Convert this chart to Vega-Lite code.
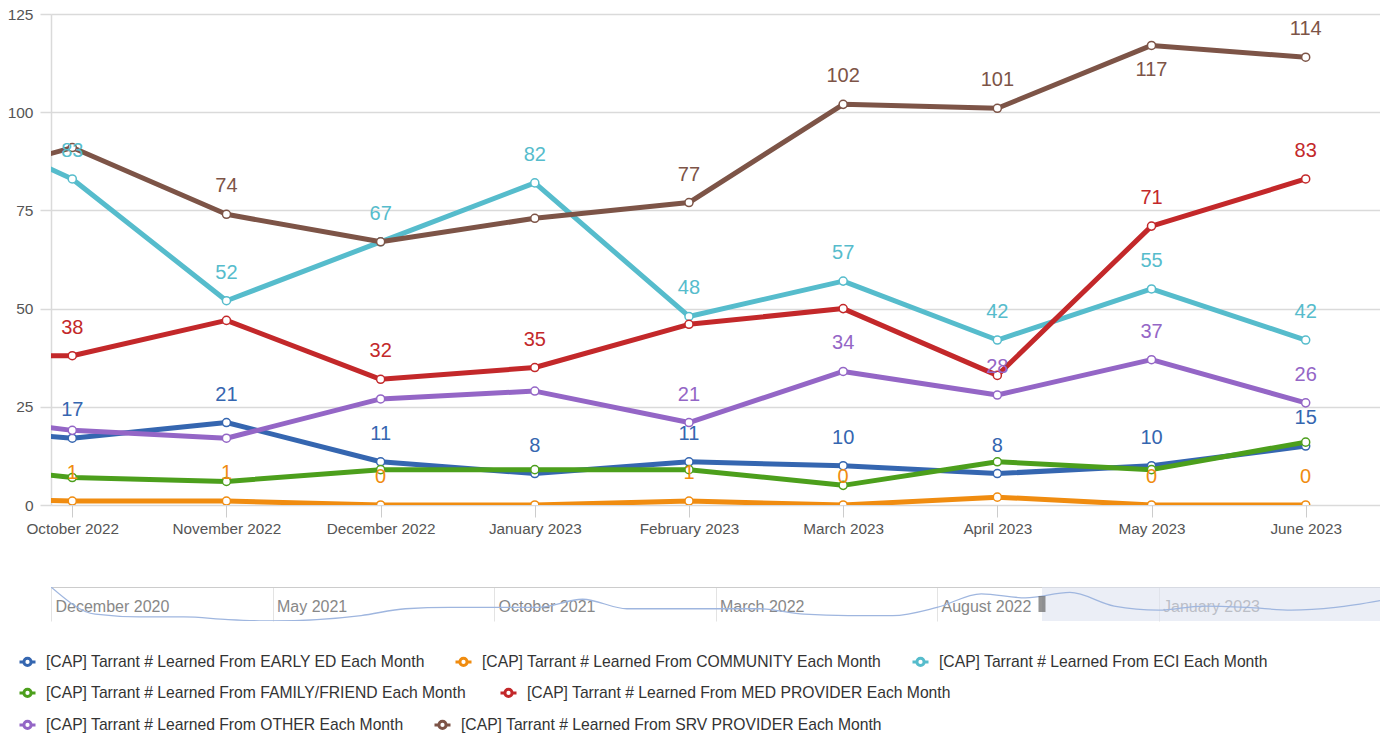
{
  "$schema": "https://vega.github.io/schema/vega-lite/v6.json",
  "background": "white",
  "padding": {"left": 7, "top": 7, "right": 0, "bottom": 0},
  "config": {
    "view": {"stroke": null},
    "font": "Liberation Sans, Arial, sans-serif"
  },
  "datasets": {
    "main": [
      {"src": "EARLY ED", "m": -1, "v": 20},
      {"src": "EARLY ED", "m": 0, "v": 17, "lab": "17"},
      {"src": "EARLY ED", "m": 1, "v": 21, "lab": "21"},
      {"src": "EARLY ED", "m": 2, "v": 11, "lab": "11"},
      {"src": "EARLY ED", "m": 3, "v": 8, "lab": "8"},
      {"src": "EARLY ED", "m": 4, "v": 11, "lab": "11"},
      {"src": "EARLY ED", "m": 5, "v": 10, "lab": "10"},
      {"src": "EARLY ED", "m": 6, "v": 8, "lab": "8"},
      {"src": "EARLY ED", "m": 7, "v": 10, "lab": "10"},
      {"src": "EARLY ED", "m": 8, "v": 15, "lab": "15"},
      {"src": "COMMUNITY", "m": -1, "v": 2},
      {"src": "COMMUNITY", "m": 0, "v": 1, "lab": "1"},
      {"src": "COMMUNITY", "m": 1, "v": 1, "lab": "1"},
      {"src": "COMMUNITY", "m": 2, "v": 0, "lab": "0"},
      {"src": "COMMUNITY", "m": 3, "v": 0},
      {"src": "COMMUNITY", "m": 4, "v": 1, "lab": "1"},
      {"src": "COMMUNITY", "m": 5, "v": 0, "lab": "0"},
      {"src": "COMMUNITY", "m": 6, "v": 2},
      {"src": "COMMUNITY", "m": 7, "v": 0, "lab": "0"},
      {"src": "COMMUNITY", "m": 8, "v": 0, "lab": "0"},
      {"src": "ECI", "m": -1, "v": 101},
      {"src": "ECI", "m": 0, "v": 83, "lab": "83"},
      {"src": "ECI", "m": 1, "v": 52, "lab": "52"},
      {"src": "ECI", "m": 2, "v": 67, "lab": "67"},
      {"src": "ECI", "m": 3, "v": 82, "lab": "82"},
      {"src": "ECI", "m": 4, "v": 48, "lab": "48"},
      {"src": "ECI", "m": 5, "v": 57, "lab": "57"},
      {"src": "ECI", "m": 6, "v": 42, "lab": "42"},
      {"src": "ECI", "m": 7, "v": 55, "lab": "55"},
      {"src": "ECI", "m": 8, "v": 42, "lab": "42"},
      {"src": "FAMILY/FRIEND", "m": -1, "v": 11},
      {"src": "FAMILY/FRIEND", "m": 0, "v": 7},
      {"src": "FAMILY/FRIEND", "m": 1, "v": 6},
      {"src": "FAMILY/FRIEND", "m": 2, "v": 9},
      {"src": "FAMILY/FRIEND", "m": 3, "v": 9},
      {"src": "FAMILY/FRIEND", "m": 4, "v": 9},
      {"src": "FAMILY/FRIEND", "m": 5, "v": 5},
      {"src": "FAMILY/FRIEND", "m": 6, "v": 11},
      {"src": "FAMILY/FRIEND", "m": 7, "v": 9},
      {"src": "FAMILY/FRIEND", "m": 8, "v": 16},
      {"src": "MED PROVIDER", "m": -1, "v": 38},
      {"src": "MED PROVIDER", "m": 0, "v": 38, "lab": "38"},
      {"src": "MED PROVIDER", "m": 1, "v": 47},
      {"src": "MED PROVIDER", "m": 2, "v": 32, "lab": "32"},
      {"src": "MED PROVIDER", "m": 3, "v": 35, "lab": "35"},
      {"src": "MED PROVIDER", "m": 4, "v": 46},
      {"src": "MED PROVIDER", "m": 5, "v": 50},
      {"src": "MED PROVIDER", "m": 6, "v": 33},
      {"src": "MED PROVIDER", "m": 7, "v": 71, "lab": "71"},
      {"src": "MED PROVIDER", "m": 8, "v": 83, "lab": "83"},
      {"src": "OTHER", "m": -1, "v": 24},
      {"src": "OTHER", "m": 0, "v": 19},
      {"src": "OTHER", "m": 1, "v": 17},
      {"src": "OTHER", "m": 2, "v": 27},
      {"src": "OTHER", "m": 3, "v": 29},
      {"src": "OTHER", "m": 4, "v": 21, "lab": "21"},
      {"src": "OTHER", "m": 5, "v": 34, "lab": "34"},
      {"src": "OTHER", "m": 6, "v": 28, "lab": "28"},
      {"src": "OTHER", "m": 7, "v": 37, "lab": "37"},
      {"src": "OTHER", "m": 8, "v": 26, "lab": "26"},
      {"src": "SRV PROVIDER", "m": -1, "v": 80},
      {"src": "SRV PROVIDER", "m": 0, "v": 91},
      {"src": "SRV PROVIDER", "m": 1, "v": 74, "lab": "74"},
      {"src": "SRV PROVIDER", "m": 2, "v": 67},
      {"src": "SRV PROVIDER", "m": 3, "v": 73},
      {"src": "SRV PROVIDER", "m": 4, "v": 77, "lab": "77"},
      {"src": "SRV PROVIDER", "m": 5, "v": 102, "lab": "102"},
      {"src": "SRV PROVIDER", "m": 6, "v": 101, "lab": "101"},
      {"src": "SRV PROVIDER", "m": 7, "v": 117, "lab": "117"},
      {"src": "SRV PROVIDER", "m": 8, "v": 114, "lab": "114"}
    ],
    "nav": [
      {"m": 0, "v": 25}, {"m": 1, "v": 5}, {"m": 2, "v": 3}, {"m": 3, "v": 3},
      {"m": 4, "v": 1}, {"m": 5, "v": 0}, {"m": 6, "v": 1}, {"m": 7, "v": 4},
      {"m": 8, "v": 9}, {"m": 9, "v": 10}, {"m": 10, "v": 10}, {"m": 11, "v": 10},
      {"m": 12, "v": 16}, {"m": 13, "v": 9}, {"m": 14, "v": 9}, {"m": 15, "v": 9},
      {"m": 16, "v": 9}, {"m": 17, "v": 5}, {"m": 18, "v": 4}, {"m": 19, "v": 4},
      {"m": 20, "v": 10}, {"m": 21, "v": 20}, {"m": 22, "v": 17}, {"m": 23, "v": 21},
      {"m": 24, "v": 11}, {"m": 25, "v": 8}, {"m": 26, "v": 11}, {"m": 27, "v": 10},
      {"m": 28, "v": 8}, {"m": 29, "v": 10}, {"m": 30, "v": 15}
    ]
  },
  "spacing": 82,
  "bounds": "flush",
  "vconcat": [
    {
      "width": 1329,
      "height": 491,
      "data": {"name": "main"},
      "encoding": {
        "x": {
          "field": "m", "type": "quantitative",
          "scale": {"domain": [-0.138, 8.482], "nice": false, "zero": false},
          "axis": {
            "values": [0, 1, 2, 3, 4, 5, 6, 7, 8],
            "labelExpr": "['October 2022','November 2022','December 2022','January 2023','February 2023','March 2023','April 2023','May 2023','June 2023'][datum.value]",
            "grid": false, "domain": false, "ticks": true,
            "tickColor": "#cccccc", "tickSize": 12, "tickWidth": 1,
            "labelFontSize": 15.3, "labelColor": "#555555", "labelPadding": 4,
            "labelFlush": false, "labelOverlap": false, "title": null
          }
        },
        "y": {
          "field": "v", "type": "quantitative",
          "scale": {"domain": [0, 125], "nice": false},
          "axis": {
            "values": [0, 25, 50, 75, 100, 125],
            "grid": true, "gridColor": "#dadada", "gridWidth": 1.5,
            "domain": true, "domainColor": "#dadada", "domainWidth": 1.5,
            "tickColor": "#dadada", "tickSize": 11, "tickWidth": 1.5,
            "labelFontSize": 15.5, "labelColor": "#555555", "labelPadding": 7,
            "title": null
          }
        }
      },
      "layer": [
        {
          "transform": [{"filter": {"field": "src", "oneOf": ["EARLY ED", "COMMUNITY", "ECI"]}}],
          "encoding": {
            "color": {
              "field": "src", "type": "nominal",
              "scale": {"domain": ["EARLY ED", "COMMUNITY", "ECI"], "range": ["#3566b0", "#f08c10", "#56bccc"]},
              "legend": {
                "orient": "none", "legendX": -33, "legendY": 638, "direction": "horizontal",
                "title": null, "padding": 0, "columnPadding": 24, "labelOffset": 9, "labelLimit": 800,
                "labelFontSize": 15.7, "labelColor": "#333333",
                "labelExpr": "'[CAP] Tarrant # Learned From ' + datum.label + ' Each Month'",
                "symbolType": "M-1,0H-0.45M0.45,0H1M0.45,0A0.45,0.45,0,1,1,-0.45,0A0.45,0.45,0,1,1,0.45,0",
                "symbolSize": 256, "symbolStrokeWidth": 3, "symbolFillColor": "white"
              }
            }
          },
          "layer": [
            {"mark": {"type": "line", "strokeWidth": 5, "strokeJoin": "round", "clip": true}},
            {"mark": {"type": "point", "filled": false, "fill": "white", "fillOpacity": 1, "opacity": 1, "size": 65, "strokeWidth": 1.5, "clip": true}}
          ]
        },
        {
          "transform": [{"filter": {"field": "src", "oneOf": ["FAMILY/FRIEND", "MED PROVIDER"]}}],
          "encoding": {
            "color": {
              "field": "src", "type": "nominal",
              "scale": {"domain": ["FAMILY/FRIEND", "MED PROVIDER"], "range": ["#4c9f1c", "#c3282a"]},
              "legend": {
                "orient": "none", "legendX": -33, "legendY": 669, "direction": "horizontal",
                "title": null, "padding": 0, "columnPadding": 28, "labelOffset": 9, "labelLimit": 800,
                "labelFontSize": 15.7, "labelColor": "#333333",
                "labelExpr": "'[CAP] Tarrant # Learned From ' + datum.label + ' Each Month'",
                "symbolType": "M-1,0H-0.45M0.45,0H1M0.45,0A0.45,0.45,0,1,1,-0.45,0A0.45,0.45,0,1,1,0.45,0",
                "symbolSize": 256, "symbolStrokeWidth": 3, "symbolFillColor": "white"
              }
            }
          },
          "layer": [
            {"mark": {"type": "line", "strokeWidth": 5, "strokeJoin": "round", "clip": true}},
            {"mark": {"type": "point", "filled": false, "fill": "white", "fillOpacity": 1, "opacity": 1, "size": 65, "strokeWidth": 1.5, "clip": true}}
          ]
        },
        {
          "transform": [{"filter": {"field": "src", "oneOf": ["OTHER", "SRV PROVIDER"]}}],
          "encoding": {
            "color": {
              "field": "src", "type": "nominal",
              "scale": {"domain": ["OTHER", "SRV PROVIDER"], "range": ["#9466c6", "#7d5447"]},
              "legend": {
                "orient": "none", "legendX": -33, "legendY": 701, "direction": "horizontal",
                "title": null, "padding": 0, "columnPadding": 24, "labelOffset": 9, "labelLimit": 800,
                "labelFontSize": 15.7, "labelColor": "#333333",
                "labelExpr": "'[CAP] Tarrant # Learned From ' + datum.label + ' Each Month'",
                "symbolType": "M-1,0H-0.45M0.45,0H1M0.45,0A0.45,0.45,0,1,1,-0.45,0A0.45,0.45,0,1,1,0.45,0",
                "symbolSize": 256, "symbolStrokeWidth": 3, "symbolFillColor": "white"
              }
            }
          },
          "layer": [
            {"mark": {"type": "line", "strokeWidth": 5, "strokeJoin": "round", "clip": true}},
            {"mark": {"type": "point", "filled": false, "fill": "white", "fillOpacity": 1, "opacity": 1, "size": 65, "strokeWidth": 1.5, "clip": true}}
          ]
        },
        {
          "transform": [{"filter": "isValid(datum.lab)"}],
          "encoding": {
            "color": {
              "field": "src", "type": "nominal",
              "scale": {
                "domain": ["EARLY ED", "COMMUNITY", "ECI", "FAMILY/FRIEND", "MED PROVIDER", "OTHER", "SRV PROVIDER"],
                "range": ["#3566b0", "#f08c10", "#56bccc", "#4c9f1c", "#c3282a", "#9466c6", "#7d5447"]
              },
              "legend": null
            },
            "text": {"field": "lab", "type": "nominal"}
          },
          "layer": [
            {"transform": [{"filter": "datum.v < 115"}], "mark": {"type": "text", "baseline": "middle", "dy": -28, "fontSize": 20}},
            {"transform": [{"filter": "datum.v >= 115"}], "mark": {"type": "text", "baseline": "middle", "dy": 25, "fontSize": 20}}
          ]
        }
      ],
      "resolve": {"scale": {"color": "independent"}}
    },
    {
      "width": 1329,
      "height": 34,
      "layer": [
        {
          "data": {"values": [{"from": 22.37, "to": 30}]},
          "mark": {"type": "rect", "color": "#dde3f0", "opacity": 0.6},
          "encoding": {
            "x": {"field": "from", "type": "quantitative", "scale": {"domain": [0, 30], "nice": false, "zero": false},
              "axis": {
                "values": [0, 5, 10, 15, 20, 25],
                "labelExpr": "['December 2020','May 2021','October 2021','March 2022','August 2022','January 2023'][datum.value/5]",
                "grid": true, "gridColor": "#e3e3e3", "ticks": false, "tickSize": 0, "domain": false,
                "labelAlign": "left", "labelBaseline": "middle", "labelPadding": -15, "labelOffset": 4,
                "labelFontSize": 16, "labelColor": "#888888", "labelFlush": false, "labelOverlap": false,
                "title": null
              }},
            "x2": {"field": "to"}
          }
        },
        {
          "data": {"name": "nav"},
          "mark": {"type": "line", "interpolate": "monotone", "color": "#9fb6df", "strokeWidth": 1.3, "clip": true},
          "encoding": {
            "x": {"field": "m", "type": "quantitative"},
            "y": {"field": "v", "type": "quantitative", "scale": {"domain": [0, 25], "nice": false},
              "axis": {"values": [25], "grid": true, "gridColor": "#cccccc", "labels": false, "ticks": false, "domain": false, "title": null}}
          }
        },
        {
          "data": {"values": [{"at": 22.37, "mid": 12.5}]},
          "mark": {"type": "tick", "orient": "vertical", "thickness": 7, "size": 16, "color": "#666666"},
          "encoding": {
            "x": {"field": "at", "type": "quantitative"},
            "y": {"field": "mid", "type": "quantitative"}
          }
        }
      ]
    }
  ]
}
